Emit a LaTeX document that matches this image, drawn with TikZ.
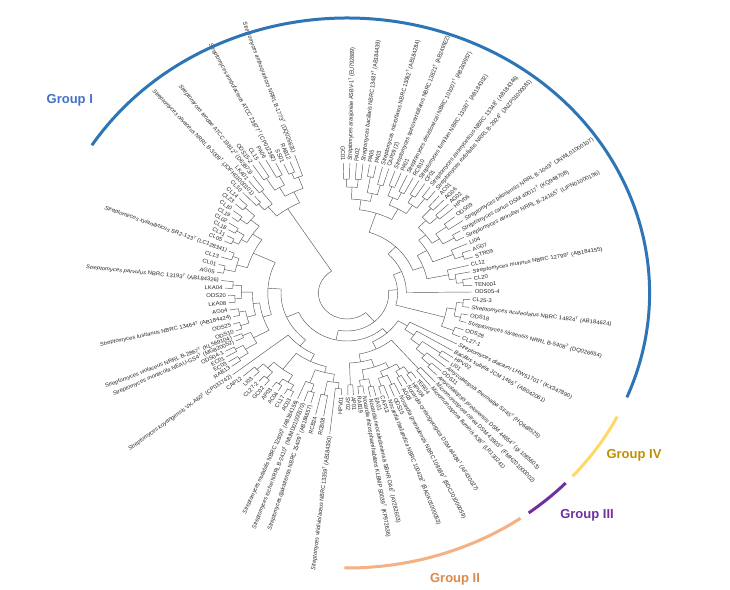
\documentclass[tikz,border=0pt]{standalone}
\usepackage{fontspec}
\setmainfont{Liberation Sans}
\definecolor{grpblue}{HTML}{2E75B6}
\definecolor{grpbluetxt}{HTML}{4472C4}
\definecolor{grporange}{HTML}{F4B183}
\definecolor{grporangetxt}{HTML}{D98B4E}
\definecolor{grppurple}{HTML}{7030A0}
\definecolor{grpyellow}{HTML}{FFD966}
\definecolor{grpyellowtxt}{HTML}{BF9000}
\newcommand\spn[1]{\textit{#1}}
\newcommand\Tt{\textsuperscript{T}}
% #1 name, #2 angle, #3 tip radius, #4 label
\newcommand\leafnode[4]{%
  \pgfmathsetmacro\myLa{#2}%
  \pgfmathsetmacro\myLr{#3+2}%
  \expandafter\xdef\csname ang@#1\endcsname{\myLa}%
  \coordinate (#1) at (\myLa:#3);
  \pgfmathsetmacro\myLc{cos(\myLa)}%
  \ifdim\myLc pt<0pt
    \node[lab, anchor=east, rotate=\myLa+180] (t#1) at (\myLa:\myLr) {#4};%
  \else
    \node[lab, anchor=west, rotate=\myLa] (t#1) at (\myLa:\myLr) {#4};%
  \fi
}
% #1 name, #2 radius, #3 #4 children
\newcommand\cladenode[4]{%
  \edef\myCa{\csname ang@#3\endcsname}%
  \edef\myCb{\csname ang@#4\endcsname}%
  \pgfmathsetmacro\myNa{(\myCa+\myCb)/2}%
  \expandafter\xdef\csname ang@#1\endcsname{\myNa}%
  \coordinate (#1) at (\myNa:#2);
  \coordinate (#1-a) at (\myCa:#2);
  \coordinate (#1-b) at (\myCb:#2);
  \draw[br] (#1-a) arc[start angle=\myCa, end angle=\myCb, radius=#2pt];
  \draw[br] (#1-a) -- (#3);
  \draw[br] (#1-b) -- (#4);
}
\begin{document}
\begin{tikzpicture}[x=1pt,y=1pt,xscale=1.1,
  lab/.style={font=\fontsize{5.4}{6}\selectfont, inner sep=0pt, transform shape, text=black!85},
  br/.style={draw=black!65, line width=0.45pt},
  gl/.style={font=\fontsize{13}{15}\selectfont\bfseries},
  garc/.style={line width=3pt}]
\useasboundingbox[fill=white] (-315.4545,-297) rectangle (348.1818,293);
% leaves
\leafnode{L0}{91.5}{130}{GC01}
\leafnode{L1}{88.86}{130}{\spn{Streptomyces araujoniae} ASBV-1\Tt{} (EU792889)}
\leafnode{L2}{86.22}{130}{PA02}
\leafnode{L3}{83.57}{130}{\spn{Streptomyces bacillaris} NBRC 13487\Tt{} (AB184439)}
\leafnode{L4}{80.93}{130}{PA05}
\leafnode{L5}{78.29}{130}{PA03}
\leafnode{L6}{75.65}{130}{\spn{Streptomyces microflavus} NBRC 13062\Tt{} (AB184284)}
\leafnode{L7}{73.01}{130}{CAP09 (2)}
\leafnode{L8}{70.36}{130}{\spn{Streptomyces spinoverticillatus} NBRC 13821\Tt{} (AB249922)}
\leafnode{L9}{67.72}{130}{PA01}
\leafnode{L10}{65.08}{130}{\spn{Streptomyces drozdowiczii} NBRC 101007\Tt{} (AB249957)}
\leafnode{L11}{62.44}{130}{RCB10}
\leafnode{L12}{59.80}{130}{\spn{Streptomyces fumilum} NBRC 13087\Tt{} (AB184302)}
\leafnode{L13}{57.15}{130}{CF01}
\leafnode{L14}{54.51}{130}{\spn{Streptomyces zaomyceticus} NBRC 13348\Tt{} (AB184346)}
\leafnode{L15}{51.87}{130}{\spn{Streptomyces exfoliatus} NRRL B-2924\Tt{} (JNZP01000081)}
\leafnode{L16}{49.23}{128}{AC01}
\leafnode{L17}{46.59}{128}{AG06}
\leafnode{L18}{43.94}{128}{AG02}
\leafnode{L19}{41.3}{128}{HPV06}
\leafnode{L20}{37.9}{124}{ODS09}
\leafnode{L21}{34.5}{128}{\spn{Streptomyces bikiniensis} NRRL B-1049\Tt{} (JNWL01000107)}
\leafnode{L22}{31.1}{120}{\spn{Streptomyces canus} DSM 40017\Tt{} (KQ948708)}
\leafnode{L23}{27.7}{120}{\spn{Streptomyces atriruber} NRRL B-24165\Tt{} (LIPN01000196)}
\leafnode{L24}{24.3}{120}{LI04}
\leafnode{L25}{20.9}{120}{AG07}
\leafnode{L26}{17.5}{120}{STR09}
\leafnode{L27}{14.1}{114}{CL12}
\leafnode{L28}{10.7}{114}{\spn{Streptomyces murinus} NBRC 12799\Tt{} (AB184155)}
\leafnode{L29}{7.3}{114}{CL20}
\leafnode{L30}{3.9}{114}{TEN001}
\leafnode{L31}{0.5}{114}{ODS05-4}
\leafnode{L32}{-3.44}{112}{CL25-3}
\leafnode{L33}{-7.38}{112}{\spn{Streptomyces aculeolatus} NBRC 14824\Tt{} (AB184624)}
\leafnode{L34}{-11.31}{112}{ODS18}
\leafnode{L35}{-15.25}{112}{\spn{Streptomyces siyaensis} NRRL B-5408\Tt{} (DQ026654)}
\leafnode{L36}{-19.19}{112}{ODS28}
\leafnode{L37}{-23.13}{112}{CL27-1}
\leafnode{L38}{-27.06}{112}{\spn{Streptomyces diacarni} LHW51701\Tt{} (KX347890)}
\leafnode{L39}{-31}{112}{\spn{Bacillus subtilis} JCM 1465\Tt{} (AB042061)}
\leafnode{L40}{-33.83}{116}{HPV02}
\leafnode{L41}{-36.67}{116}{LI01}
\leafnode{L42}{-39.5}{116}{\spn{Amycolatopsis thermalba} SF45\Tt{} (HQ668525)}
\leafnode{L43}{-42.33}{116}{ODS11}
\leafnode{L44}{-45.17}{116}{\spn{Amycolatopsis pretoriensis} DSM 44654\Tt{} (gi 1085603)}
\leafnode{L45}{-48}{120}{\spn{Micromonospora citrea} DSM 43903\Tt{} (FMHZ01000002)}
\leafnode{L46}{-50.77}{120}{\spn{Micromonospora fluminis} A38\Tt{} (LR130241)}
\leafnode{L47}{-53.53}{106}{TER04}
\leafnode{L48}{-56.3}{106}{HPV04}
\leafnode{L49}{-59.07}{106}{\spn{Nocardia cyriacigeorgica} DSM 44484\Tt{} (AF430027)}
\leafnode{L50}{-61.83}{106}{AG03}
\leafnode{L51}{-64.6}{112}{\spn{Nocardia grenadensis} NBRC 108939\Tt{} (BDCJ01000059)}
\leafnode{L52}{-67.37}{112}{ODS15}
\leafnode{L53}{-70.13}{112}{\spn{Nocardia thailandica} NBRC 100428\Tt{} (BAGK01000053)}
\leafnode{L54}{-72.9}{106}{CAP13}
\leafnode{L55}{-75.67}{106}{EA01}
\leafnode{L56}{-78.43}{106}{\spn{Nocardia neocaledoniensis} SBHR OA6\Tt{} (AY282603)}
\leafnode{L57}{-81.2}{102}{\spn{Nocardia rhizosphaerihabitans} KLBMP S0039\Tt{} (KP972636)}
\leafnode{L58}{-83.97}{102}{RAB19}
\leafnode{L59}{-86.73}{102}{AP01}
\leafnode{L60}{-89.5}{102}{SY02}
\leafnode{L61}{-92.92}{102}{HPV01}
\leafnode{L62}{-96.34}{142}{\spn{Streptomyces viridiviolaceus} NBRC 13359\Tt{} (AB184350)}
\leafnode{L63}{-99.76}{125}{RCB08}
\leafnode{L64}{-103.18}{125}{RCB24}
\leafnode{L65}{-106.6}{115}{\spn{Streptomyces djakartensis} NBRC 15409\Tt{} (AB184657)}
\leafnode{L66}{-109.8}{115}{\spn{Streptomyces rochei} NRRL B-2410\Tt{} (MUMD01000370)}
\leafnode{L67}{-113}{115}{\spn{Streptomyces mutabilis} NBRC 12800\Tt{} (AB184156)}
\leafnode{L68}{-116.2}{116}{AC03}
\leafnode{L69}{-119.4}{116}{CL17}
\leafnode{L70}{-122.6}{116}{AC04}
\leafnode{L71}{-125.8}{116}{AP03}
\leafnode{L72}{-129}{119}{GC02}
\leafnode{L73}{-132.2}{119}{CL27-2}
\leafnode{L74}{-135.4}{119}{LI03}
\leafnode{L75}{-138.6}{126}{CAP12}
\leafnode{L76}{-141.8}{132}{\spn{Streptomyces koyangensis} VK-A60\Tt{} (CP031742)}
\leafnode{L77}{-145}{128}{RAB13}
\leafnode{L78}{-147.4}{128}{EC03}
\leafnode{L79}{-149.8}{127}{EC01}
\leafnode{L80}{-152.2}{125}{ODS04-1}
\leafnode{L81}{-154.6}{112}{\spn{Streptomyces monticola} NEAU-GS4\Tt{} (MG820052)}
\leafnode{L82}{-157}{112}{\spn{Streptomyces violaceus} NRRL B-2867\Tt{} (KL569104)}
\leafnode{L83}{-159.4}{108}{ODS10}
\leafnode{L84}{-163.25}{108}{ODS25}
\leafnode{L85}{-167.1}{106}{\spn{Streptomyces lusitanus} NBRC 13464\Tt{} (AB184424)}
\leafnode{L86}{-170.95}{108}{AG04}
\leafnode{L87}{-174.8}{108}{LKA08}
\leafnode{L88}{-178.65}{108}{ODS20}
\leafnode{L89}{-182.5}{111}{LKA04}
\leafnode{L90}{-186.25}{115}{\spn{Streptomyces parvulus} NBRC 13193\Tt{} (AB184326)}
\leafnode{L91}{-190}{120}{AG05}
\leafnode{L92}{-193.75}{120}{CL01}
\leafnode{L93}{-197.5}{120}{CL13}
\leafnode{L94}{-201.25}{115}{\spn{Streptomyces xylanilyticus} SR2-123\Tt{} (LC128341)}
\leafnode{L95}{-205}{123}{CL05}
\leafnode{L96}{-207.71}{123}{CL11}
\leafnode{L97}{-210.43}{125}{CL18}
\leafnode{L98}{-213.14}{128}{CL02}
\leafnode{L99}{-215.85}{129}{CL19}
\leafnode{L100}{-218.56}{132}{CL10}
\leafnode{L101}{-221.28}{135}{CL23}
\leafnode{L102}{-223.99}{136}{CL14}
\leafnode{L103}{-226.7}{138}{CL30}
\leafnode{L104}{-229.08}{128}{\spn{Streptomyces olivaceus} NRRL B-3009\Tt{} (JOFH01000101)}
\leafnode{L105}{-231.47}{143}{LKA01}
\leafnode{L106}{-233.85}{145}{\spn{Streptomyces tendae} ATCC 19812\Tt{} (D63873)}
\leafnode{L107}{-236.23}{154}{ODS15-2}
\leafnode{L108}{-238.62}{154}{CL15}
\leafnode{L109}{-241}{152}{PA06}
\leafnode{L110}{-243.5}{145}{\spn{Streptomyces ambofaciens} ATCC 23877\Tt{} (CP012382)}
\leafnode{L111}{-246}{141}{SS01}
\leafnode{L112}{-248.5}{141}{RAB12}
\leafnode{L113}{-251}{146}{\spn{Streptomyces anthocyanicus} NRRL B-1773\Tt{} (DQ026631)}
% clades
\cladenode{T1}{114}{L0}{L1}
\cladenode{T2}{114}{L2}{L3}
\cladenode{T12}{106}{T1}{T2}
\cladenode{T3}{118}{L4}{L5}
\cladenode{T4}{112}{L6}{L7}
\cladenode{T34}{102}{T3}{T4}
\cladenode{T1234}{94}{T12}{T34}
\cladenode{T5}{114}{L8}{L9}
\cladenode{T6}{112}{L10}{L11}
\cladenode{T56}{104}{T5}{T6}
\cladenode{T7}{114}{L12}{L13}
\cladenode{T8}{118}{L14}{L15}
\cladenode{T78}{106}{T7}{T8}
\cladenode{T5678}{96}{T56}{T78}
\cladenode{TT}{84}{T1234}{T5678}
\cladenode{U1}{114}{L16}{L17}
\cladenode{U2}{112}{L18}{L19}
\cladenode{U12}{102}{U1}{U2}
\cladenode{U3}{112}{L20}{L21}
\cladenode{U4}{112}{L22}{L23}
\cladenode{U34}{100}{U3}{U4}
\cladenode{U1234}{92}{U12}{U34}
\cladenode{U5}{112}{L25}{L26}
\cladenode{U56}{104}{L24}{U5}
\cladenode{UU}{84}{U1234}{U56}
\cladenode{V1}{106}{L29}{L30}
\cladenode{V2}{100}{L28}{V1}
\cladenode{V3}{94}{L27}{V2}
\cladenode{UV}{74}{UU}{V3}
\cladenode{TUV}{64}{TT}{UV}
\cladenode{TUVO}{54}{TUV}{L31}
\cladenode{X1}{106}{L32}{L33}
\cladenode{X2}{106}{L34}{L35}
\cladenode{X12}{100}{X1}{X2}
\cladenode{X3}{104}{L36}{L37}
\cladenode{XX}{92}{X12}{X3}
\cladenode{P1}{46}{TUVO}{XX}
\cladenode{Y1}{104}{L43}{L44}
\cladenode{Y2}{94}{L42}{Y1}
\cladenode{Y3}{104}{L40}{L41}
\cladenode{Y4}{84}{Y3}{Y2}
\cladenode{Y5}{74}{L39}{Y4}
\cladenode{Y6}{64}{L38}{Y5}
\cladenode{Z1}{100}{L45}{L46}
\cladenode{N1}{98}{L47}{L48}
\cladenode{N2}{96}{L49}{L50}
\cladenode{N3}{90}{N1}{N2}
\cladenode{N4}{100}{L51}{L52}
\cladenode{N5}{98}{L53}{L54}
\cladenode{N45}{90}{N4}{N5}
\cladenode{N6}{84}{N3}{N45}
\cladenode{N7}{96}{L55}{L56}
\cladenode{N8}{94}{L57}{L58}
\cladenode{N78}{88}{N7}{N8}
\cladenode{N9}{78}{N6}{N78}
\cladenode{N10}{92}{L59}{L60}
\cladenode{NN}{70}{N9}{N10}
\cladenode{ZN}{62}{Z1}{NN}
\cladenode{YZN}{54}{Y6}{ZN}
\cladenode{B1}{96}{L61}{L62}
\cladenode{B2}{104}{L63}{L64}
\cladenode{B12}{90}{B1}{B2}
\cladenode{B3}{104}{L65}{L66}
\cladenode{B34}{96}{B3}{L67}
\cladenode{B5}{82}{B12}{B34}
\cladenode{B6}{110}{L68}{L69}
\cladenode{B7}{110}{L70}{L71}
\cladenode{B67}{104}{B6}{B7}
\cladenode{B8}{112}{L72}{L73}
\cladenode{B9}{112}{L74}{L75}
\cladenode{B89}{104}{B8}{B9}
\cladenode{B6789}{96}{B67}{B89}
\cladenode{BB}{76}{B5}{B6789}
\cladenode{BK}{68}{BB}{L76}
\cladenode{C1}{118}{L77}{L78}
\cladenode{C2}{116}{L79}{L80}
\cladenode{C12}{108}{C1}{C2}
\cladenode{C3}{104}{L81}{L82}
\cladenode{C123}{96}{C12}{C3}
\cladenode{C4}{102}{L83}{L84}
\cladenode{C5}{100}{L85}{L86}
\cladenode{C45}{94}{C4}{C5}
\cladenode{C6}{102}{L87}{L88}
\cladenode{C7}{104}{L89}{L90}
\cladenode{C67}{96}{C6}{C7}
\cladenode{C4567}{86}{C45}{C67}
\cladenode{CC}{80}{C123}{C4567}
\cladenode{D1}{114}{L91}{L92}
\cladenode{D2}{110}{L93}{L94}
\cladenode{D12}{104}{D1}{D2}
\cladenode{D3}{116}{L95}{L96}
\cladenode{D4}{118}{L97}{L98}
\cladenode{D34}{110}{D3}{D4}
\cladenode{D5}{122}{L99}{L100}
\cladenode{D6}{126}{L101}{L102}
\cladenode{D56}{114}{D5}{D6}
\cladenode{D3456}{104}{D34}{D56}
\cladenode{DD}{94}{D12}{D3456}
\cladenode{CD}{72}{CC}{DD}
\cladenode{BKCD}{60}{BK}{CD}
\cladenode{R2}{48}{YZN}{BKCD}
\cladenode{BR}{38}{P1}{R2}
\cladenode{E1}{120}{L103}{L104}
\cladenode{E2}{128}{L105}{L106}
\cladenode{E12}{112}{E1}{E2}
\cladenode{E3}{136}{L107}{L108}
\cladenode{E4}{132}{L109}{L110}
\cladenode{E34}{122}{E3}{E4}
\cladenode{E5}{130}{L111}{L112}
\cladenode{E6}{124}{E5}{L113}
\cladenode{E346}{112}{E34}{E6}
\cladenode{AA}{100}{E12}{E346}
\cladenode{root}{26}{BR}{AA}
% group arcs
\coordinate (gIs) at (-22.3:275);
\coordinate (gIVs) at (-26.7:275);
\coordinate (gIIIs) at (-43.7:275);
\coordinate (gIIs) at (-55:275);
\draw[garc, grpblue] (gIs) arc[start angle=-22.3, end angle=147.5, radius=275pt];
\draw[garc, grpyellow] (gIVs) arc[start angle=-26.7, end angle=-41.8, radius=275pt];
\draw[garc, grppurple] (gIIIs) arc[start angle=-43.7, end angle=-53.1, radius=275pt];
\draw[garc, grporange] (gIIs) arc[start angle=-55, end angle=-90.5, radius=275pt];
\node[gl, text=grpbluetxt] (gI) at (-252,193) {Group I};
\node[gl, text=grpyellowtxt] (gIV) at (260.9,-162) {Group IV};
\node[gl, text=grppurple] (gIII) at (218.2,-222) {Group III};
\node[gl, text=grporangetxt] (gII) at (98.2,-286) {Group II};
\end{tikzpicture}
\end{document}
